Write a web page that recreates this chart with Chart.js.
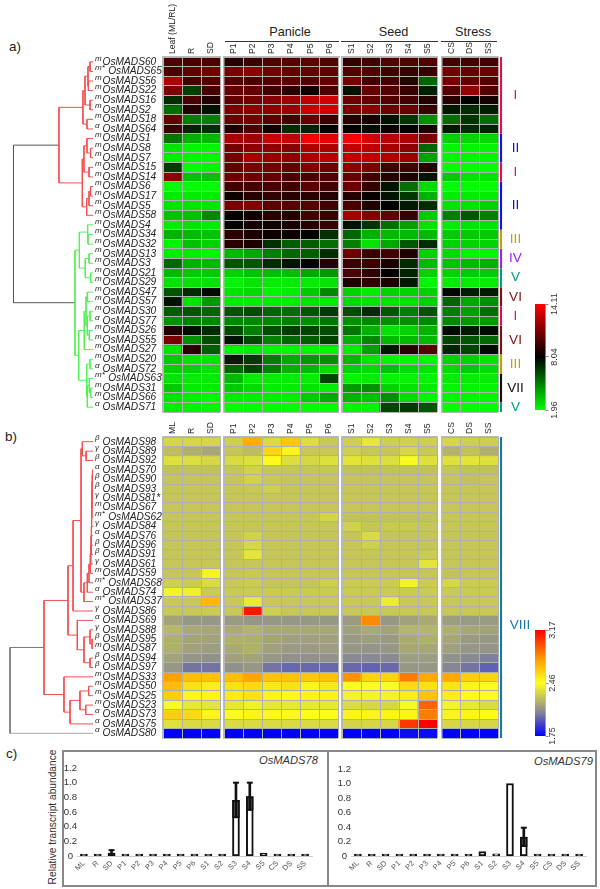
<!DOCTYPE html>
<html lang="en">

<head>
  <meta charset="UTF-8">
  <title>MADS box expression</title>
  <script src="https://cdn.jsdelivr.net/npm/chart.js"></script>
  <style>
    body { margin: 0; background: #fff; font-family: "Liberation Sans", Arial, sans-serif; color: #222; }
    #page { position: relative; width: 600px; height: 889px; overflow: hidden; }
    canvas { position: absolute; }
    .txt { position: absolute; white-space: nowrap; }
    .head { position: absolute; box-sizing: border-box; height: 17px; border-bottom: 1px solid #333; font-size: 12.7px; line-height: 14px; text-align: center; }
    .frame { position: absolute; box-sizing: border-box; border: 2px solid #888; }
  </style>
</head>

<body>
  <div id="page">
    <div class="txt" style="left:9px;top:39px;font-size:13.5px">a)</div>
    <div class="txt" style="left:5px;top:429px;font-size:13.5px">b)</div>
    <div class="txt" style="left:6px;top:746px;font-size:13.5px">c)</div>

    <div class="head" style="left:225px;top:25px;width:114px;padding-left:16px">Panicle</div>
    <div class="head" style="left:341px;top:25px;width:97px;padding-left:8px">Seed</div>
    <div class="head" style="left:441px;top:25px;width:56px;padding-left:8px">Stress</div>

    <div class="frame" style="left:62px;top:750px;width:267px;height:137px"></div>
    <div class="frame" style="left:327px;top:750px;width:270px;height:137px"></div>
    <div class="txt" style="left:51.5px;top:817px;font-size:10.2px;color:#333;transform:translate(-50%,-50%) rotate(-90deg)">Relative transcript abundance</div>
    <div class="txt" style="right:282px;top:754px;font-size:11.2px;font-style:italic;color:#333">OsMADS78</div>
    <div class="txt" style="right:7px;top:755px;font-size:11.2px;font-style:italic;color:#333">OsMADS79</div>

    <canvas id="treeA"></canvas>
    <canvas id="a0"></canvas><canvas id="a1"></canvas><canvas id="a2"></canvas><canvas id="a3"></canvas>
    <canvas id="cladesA"></canvas>
    <canvas id="scaleA"></canvas>
    <canvas id="treeB"></canvas>
    <canvas id="b0"></canvas><canvas id="b1"></canvas><canvas id="b2"></canvas><canvas id="b3"></canvas>
    <canvas id="cladesB"></canvas>
    <canvas id="scaleB"></canvas>
    <canvas id="bars78"></canvas>
    <canvas id="bars79"></canvas>
  </div>

  <script>
    // column labels
    const leafColsA = ['Leaf (ML/RL)', 'R', 'SD'];
    const leafColsB = ['ML', 'R', 'SD'];
    const panicleCols = ['P1', 'P2', 'P3', 'P4', 'P5', 'P6'];
    const seedCols = ['S1', 'S2', 'S3', 'S4', 'S5'];
    const stressCols = ['CS', 'DS', 'SS'];
    const tissues = ['ML', 'R', 'SD', 'P1', 'P2', 'P3', 'P4', 'P5', 'P6', 'S1', 'S2', 'S3', 'S4', 'S5', 'CS', 'DS', 'SS'];

    // gene names, and the small prefix written above-left of each
    const genesA = ['OsMADS60', 'OsMADS65', 'OsMADS56', 'OsMADS22', 'OsMADS16', 'OsMADS2', 'OsMADS18', 'OsMADS64', 'OsMADS1', 'OsMADS8', 'OsMADS7', 'OsMADS15', 'OsMADS14', 'OsMADS6', 'OsMADS17', 'OsMADS5', 'OsMADS58', 'OsMADS4', 'OsMADS34', 'OsMADS32', 'OsMADS13', 'OsMADS3', 'OsMADS21', 'OsMADS29', 'OsMADS47', 'OsMADS57', 'OsMADS30', 'OsMADS77', 'OsMADS26', 'OsMADS55', 'OsMADS27', 'OsMADS20', 'OsMADS72', 'OsMADS63', 'OsMADS31', 'OsMADS66', 'OsMADS71'];
    const prefixA = ['m', 'm*', 'm', 'm', 'm', 'm', 'm', 'α', 'm', 'm', 'm', 'm', 'm', 'm', 'm', 'm', 'm', 'm', 'm', 'm', 'm', 'm', 'm', 'm', 'm', 'm', 'm', 'α', 'm', 'm', 'm', 'm', 'α', 'm*', 'm', 'm', 'α'];
    const genesB = ['OsMADS98', 'OsMADS89', 'OsMADS92', 'OsMADS70', 'OsMADS90', 'OsMADS93', 'OsMADS81*', 'OsMADS67', 'OsMADS62', 'OsMADS84', 'OsMADS76', 'OsMADS96', 'OsMADS91', 'OsMADS61', 'OsMADS59', 'OsMADS68', 'OsMADS74', 'OsMADS37', 'OsMADS86', 'OsMADS69', 'OsMADS88', 'OsMADS95', 'OsMADS87', 'OsMADS94', 'OsMADS97', 'OsMADS33', 'OsMADS50', 'OsMADS25', 'OsMADS23', 'OsMADS73', 'OsMADS75', 'OsMADS80'];
    const prefixB = ['β', 'γ', 'β', 'α', 'β', 'β', 'γ', 'm', 'm*', 'γ', 'α', 'β', 'β', 'γ', 'm', 'm*', 'α', 'm*', 'γ', 'α', 'γ', 'β', 'm', 'β', 'β', 'm', 'm', 'm', 'm', 'α', 'α', 'α'];

    // expression values, one row per gene: leaf R SD | P1-P6 | S1-S5 | CS DS SS
    const heatA = [
      [9.9, 9.8, 9.9, 9.0, 9.5, 10, 10.2, 10.3, 10, 9.3, 9.6, 10, 10, 10, 9.6, 9.6, 9.7],
      [9.8, 10.4, 10.8, 11, 11.4, 10.8, 10.5, 10.4, 10.4, 10, 10, 9.6, 9.4, 9.3, 10.8, 10.5, 10.6],
      [12.2, 9.6, 10, 10, 9.8, 10, 10.2, 10, 10.4, 10.8, 9.6, 9.6, 9, 5.6, 10.8, 10.4, 10],
      [11, 6.5, 9.7, 10.4, 10.4, 9.6, 9.1, 8.4, 9.8, 7.6, 10.4, 10, 9.4, 7.3, 10, 11.6, 10],
      [7, 9.8, 8.8, 10.4, 10.8, 11.2, 11.8, 12.6, 13, 10.6, 10.4, 10, 9.6, 8.9, 9, 8, 8.5],
      [5.4, 8.9, 7.6, 11, 11.4, 11.4, 11.6, 12.8, 13, 11, 11.4, 10.6, 10.5, 9.4, 7.5, 7, 7.3],
      [10.4, 5, 5, 10.6, 10.8, 10.2, 9.6, 10.4, 9.4, 9, 8.6, 7.6, 6.8, 4.6, 5.4, 6.8, 5.4],
      [9.4, 7.2, 6.9, 8.8, 9.8, 8.4, 7, 7.2, 8, 8, 7.7, 8.3, 8, 8.6, 7.5, 7, 7.2],
      [5.2, 3.8, 3.6, 12.2, 12, 13, 12.8, 13.8, 13.5, 14, 13.2, 12.6, 12.2, 11, 3, 2.9, 2.9],
      [2.6, 2.2, 2.2, 10.8, 11.4, 11.4, 11.2, 12.2, 12.2, 12.6, 12.6, 12, 11.4, 5.6, 2.2, 2.2, 2.2],
      [2.4, 2.2, 2.2, 10.8, 12, 11.6, 11.4, 12.2, 12.4, 12.6, 12.6, 12.2, 11.6, 4.2, 2.2, 2.2, 2.2],
      [6.6, 2, 2.2, 10.4, 11, 10.8, 10.4, 11.2, 10.6, 11.4, 11, 9.6, 9.6, 8.9, 2, 2, 2],
      [11.4, 3.4, 3.4, 10.6, 10.6, 10.4, 9.8, 9.7, 9.9, 10.5, 9.6, 9, 8.8, 7.6, 3.2, 2.6, 2.6],
      [2, 2, 2, 9.6, 9.7, 9.8, 9.6, 10.2, 9.6, 10.6, 9.3, 7.6, 5.4, 2.8, 2, 2, 2],
      [2.4, 2.4, 2.4, 8.4, 9, 9.2, 9, 9.1, 8.8, 8.9, 8.3, 7.6, 6.7, 3.8, 2.4, 2.4, 2.4],
      [2.6, 2.6, 2.6, 11, 11.2, 10.2, 10.2, 10, 9.6, 9.8, 8.8, 8, 7.5, 7, 2.6, 2.6, 3],
      [3.4, 3.4, 4.8, 8.1, 8.5, 9, 8.9, 9.6, 9.4, 12, 11.2, 10.4, 9.3, 3.2, 5, 6, 5],
      [2.4, 2.6, 2.4, 8.1, 8.5, 8.4, 8.6, 9, 9.3, 7.6, 6.8, 5.4, 4.2, 2.6, 2.4, 2.6, 2.6],
      [3.8, 3.6, 3.4, 9, 8.7, 8.4, 8.4, 8, 6.9, 5.6, 3.8, 3.6, 3.6, 3.6, 3.2, 3.2, 3.2],
      [2.2, 3.4, 3, 9, 8.7, 6.9, 5.8, 5.8, 5.4, 5, 2.6, 4, 6, 7, 3, 3, 3],
      [2.4, 2.4, 2.2, 3.6, 4, 5, 5.6, 5.8, 7, 10.6, 9.4, 9.6, 8.8, 3, 2.8, 2.2, 2.2],
      [5.6, 3.8, 3.6, 6, 6, 7, 7.6, 8, 9, 9.4, 9.4, 8.6, 7, 3.6, 3.4, 3.6, 3.8],
      [3.6, 3.2, 3.2, 3, 3.4, 3.5, 3.5, 4, 4.4, 9.8, 9.2, 8.1, 7.2, 3, 3, 3.2, 3.2],
      [2.6, 2.6, 2.6, 2.2, 2.6, 2.4, 2.4, 2.4, 2.6, 8.7, 9.2, 8.7, 7.4, 2.2, 2.4, 2.4, 2.4],
      [6, 7, 7.8, 2.6, 2.8, 2.2, 2.4, 3.2, 4.8, 3, 2.4, 3, 3, 3, 7.9, 7.3, 7.4],
      [7.6, 2.6, 4.4, 2.4, 2.4, 2.4, 2.4, 2.6, 2.4, 2.8, 2.6, 2.6, 2.6, 3, 5.6, 4, 4.6],
      [5.8, 6, 5.6, 6, 6.2, 5.6, 5.4, 6, 6.6, 6.2, 7, 6, 5, 6, 5, 4.2, 5.4],
      [4.6, 5, 4.8, 4.8, 4.8, 4.8, 5, 4.6, 5.2, 4.6, 4.8, 4.6, 4.6, 4.8, 4.8, 4.4, 4.4],
      [8.8, 7.7, 7, 6.2, 5, 6.2, 6.6, 6.4, 6.2, 5.2, 3.8, 2.6, 3, 3.8, 7.8, 7.4, 7.8],
      [11, 4.6, 6.2, 7.6, 6.3, 5, 5.6, 5.8, 6.5, 3.8, 4.8, 3.6, 3.6, 3.6, 6.4, 6, 5.6],
      [2.6, 9.1, 5.8, 2.2, 2.4, 2.2, 2.2, 2.2, 2.2, 2.4, 4.2, 7.5, 9, 10, 7.2, 6.4, 7.8],
      [3.2, 2.6, 2.6, 7.4, 6.6, 5, 4, 4.4, 4.6, 3.6, 2.6, 2.2, 2.2, 2.2, 3, 3, 2.6],
      [3, 3, 2.6, 5.6, 6.4, 5, 3.8, 3.6, 2.8, 3, 2.8, 3.4, 2.8, 2.6, 2.8, 3.2, 2.8],
      [2.6, 2.4, 2.4, 3.6, 2.4, 2.4, 2.4, 2.4, 6.4, 2.2, 2.4, 2.2, 2.2, 2.2, 2.4, 2.4, 2.4],
      [3.2, 2.4, 2.4, 3.2, 2.8, 2.4, 2.4, 2.6, 2.4, 4.4, 4.6, 3, 2.6, 2.4, 2.2, 2.2, 2.2],
      [2.6, 2.4, 2.2, 2.4, 2.4, 2.4, 2.4, 3.2, 4, 3.8, 3.4, 4.6, 2.8, 2.2, 2.2, 2.2, 2.2],
      [2.4, 2.2, 2.2, 2, 2, 2, 2, 2, 2, 2.2, 2.2, 6.4, 6.6, 6, 2, 2, 2]
    ];
    const heatB = [
      [2.33, 2.33, 2.33, 2.30, 2.72, 2.34, 2.64, 2.35, 2.28, 2.30, 2.38, 2.30, 2.31, 2.30, 2.33, 2.30, 2.30],
      [2.25, 2.20, 2.17, 2.27, 2.24, 2.60, 2.50, 2.28, 2.28, 2.30, 2.28, 2.27, 2.33, 2.28, 2.21, 2.26, 2.20],
      [2.36, 2.35, 2.33, 2.34, 2.36, 2.48, 2.35, 2.33, 2.36, 2.37, 2.36, 2.35, 2.44, 2.36, 2.36, 2.37, 2.36],
      [2.26, 2.26, 2.26, 2.27, 2.31, 2.27, 2.27, 2.27, 2.27, 2.26, 2.26, 2.26, 2.26, 2.26, 2.27, 2.26, 2.25],
      [2.27, 2.27, 2.27, 2.27, 2.31, 2.28, 2.27, 2.27, 2.27, 2.27, 2.27, 2.27, 2.27, 2.27, 2.27, 2.26, 2.27],
      [2.27, 2.27, 2.27, 2.27, 2.28, 2.30, 2.27, 2.27, 2.27, 2.27, 2.27, 2.27, 2.27, 2.27, 2.27, 2.27, 2.27],
      [2.27, 2.27, 2.27, 2.27, 2.27, 2.27, 2.27, 2.27, 2.27, 2.27, 2.27, 2.27, 2.27, 2.27, 2.27, 2.27, 2.27],
      [2.27, 2.27, 2.27, 2.27, 2.27, 2.27, 2.27, 2.27, 2.27, 2.27, 2.27, 2.27, 2.27, 2.27, 2.27, 2.27, 2.27],
      [2.27, 2.27, 2.27, 2.27, 2.27, 2.27, 2.27, 2.27, 2.32, 2.26, 2.26, 2.26, 2.26, 2.26, 2.27, 2.27, 2.27],
      [2.27, 2.27, 2.27, 2.27, 2.27, 2.27, 2.27, 2.27, 2.27, 2.31, 2.27, 2.28, 2.28, 2.27, 2.27, 2.27, 2.27],
      [2.27, 2.27, 2.27, 2.27, 2.31, 2.27, 2.27, 2.27, 2.27, 2.27, 2.34, 2.27, 2.27, 2.27, 2.27, 2.27, 2.27],
      [2.27, 2.27, 2.27, 2.27, 2.33, 2.27, 2.27, 2.27, 2.27, 2.27, 2.30, 2.27, 2.27, 2.27, 2.27, 2.27, 2.27],
      [2.27, 2.27, 2.27, 2.27, 2.37, 2.27, 2.27, 2.27, 2.27, 2.27, 2.27, 2.27, 2.27, 2.29, 2.27, 2.27, 2.27],
      [2.27, 2.27, 2.27, 2.27, 2.27, 2.27, 2.27, 2.27, 2.27, 2.27, 2.27, 2.27, 2.27, 2.37, 2.27, 2.27, 2.27],
      [2.27, 2.27, 2.42, 2.27, 2.28, 2.27, 2.27, 2.27, 2.27, 2.27, 2.27, 2.27, 2.27, 2.27, 2.26, 2.27, 2.27],
      [2.30, 2.29, 2.34, 2.28, 2.29, 2.27, 2.27, 2.27, 2.30, 2.29, 2.29, 2.29, 2.42, 2.29, 2.33, 2.29, 2.29],
      [2.42, 2.41, 2.29, 2.29, 2.29, 2.29, 2.29, 2.29, 2.29, 2.29, 2.29, 2.29, 2.29, 2.29, 2.29, 2.29, 2.29],
      [2.28, 2.28, 2.69, 2.28, 2.39, 2.28, 2.28, 2.28, 2.28, 2.28, 2.28, 2.40, 2.28, 2.28, 2.28, 2.28, 2.28],
      [2.28, 2.28, 2.29, 2.28, 3.12, 2.30, 2.28, 2.28, 2.28, 2.28, 2.28, 2.28, 2.28, 2.28, 2.28, 2.28, 2.28],
      [2.16, 2.12, 2.12, 2.13, 2.12, 2.12, 2.12, 2.12, 2.12, 2.13, 2.82, 2.12, 2.15, 2.18, 2.14, 2.13, 2.13],
      [2.23, 2.18, 2.17, 2.19, 2.21, 2.18, 2.18, 2.18, 2.17, 2.15, 2.18, 2.16, 2.22, 2.22, 2.20, 2.17, 2.16],
      [2.20, 2.16, 2.16, 2.20, 2.20, 2.16, 2.15, 2.15, 2.15, 2.13, 2.14, 2.13, 2.18, 2.20, 2.17, 2.13, 2.12],
      [2.20, 2.15, 2.14, 2.18, 2.20, 2.15, 2.13, 2.13, 2.14, 2.12, 2.11, 2.12, 2.17, 2.17, 2.15, 2.12, 2.11],
      [2.16, 2.11, 2.10, 2.15, 2.16, 2.12, 2.10, 2.10, 2.10, 2.08, 2.08, 2.08, 2.14, 2.14, 2.10, 2.08, 2.06],
      [2.12, 2.03, 2.03, 2.10, 2.12, 2.03, 2.00, 2.00, 2.00, 2.00, 1.99, 2.00, 2.12, 2.12, 2.07, 2.03, 1.98],
      [2.76, 2.67, 2.66, 2.67, 2.75, 2.65, 2.65, 2.64, 2.66, 2.80, 2.60, 2.60, 2.86, 2.74, 2.74, 2.62, 2.60],
      [2.68, 2.56, 2.52, 2.56, 2.58, 2.54, 2.56, 2.50, 2.54, 2.47, 2.45, 2.45, 2.58, 2.56, 2.55, 2.50, 2.48],
      [2.62, 2.49, 2.50, 2.53, 2.56, 2.50, 2.48, 2.50, 2.50, 2.42, 2.42, 2.42, 2.52, 2.66, 2.52, 2.48, 2.45],
      [2.44, 2.38, 2.37, 2.38, 2.41, 2.38, 2.38, 2.38, 2.38, 2.34, 2.33, 2.33, 2.44, 2.92, 2.42, 2.38, 2.34],
      [2.62, 2.58, 2.50, 2.47, 2.50, 2.49, 2.48, 2.47, 2.47, 2.50, 2.50, 2.50, 2.50, 2.85, 2.50, 2.50, 2.48],
      [2.36, 2.34, 2.34, 2.34, 2.34, 2.34, 2.34, 2.34, 2.34, 2.32, 2.33, 2.33, 3.03, 3.17, 2.33, 2.33, 2.33],
      [1.75, 1.75, 1.75, 1.75, 1.75, 1.75, 1.75, 1.75, 1.75, 1.75, 1.75, 1.75, 1.78, 1.78, 1.75, 1.75, 1.75]
    ];

    // colour scales and their tick labels
    const stopsA = [[1.96, [0, 255, 0]], [8.04, [0, 0, 0]], [14.11, [255, 0, 0]]];
    const stopsB = [[1.75, [0, 0, 255]], [2.10, [145, 145, 140]], [2.46, [255, 255, 30]], [2.75, [255, 165, 0]], [3.17, [255, 0, 0]]];
    const scaleTicksA = [1.96, 8.04, 14.11];
    const scaleTicksB = [1.75, 2.46, 3.17];

    // clustering trees: [merge height, left, right], numbers are gene rows
    const treeRedA = [.366,
      [.108, [.086, [.054, [.032, 0, 1], [.05, 2, 3]], [.032, 4, 5]], [.065, 6, 7]],
      [.115, [.097, [.065, 8, [.026, 9, 10]], [.043, 11, 12]], [.068, [.043, [.026, 13, 14], 15], 16]]];
    const treeGreenA = [.194,
      [.147, [.06, 17, [.054, 18, 19]], [.083, [.043, 20, 21], [.025, 22, 23]]],
      [.154, [.094, [.075, [.061, 24, 25], [.061, [.032, 26, 27], [.04, 28, 29]]], 30],
        [.068, [.032, 31, 32], [.061, [.04, 33, [.025, 34, 35]], 36]]]];
    const rootHeightA = .855;
    const treeUpperB = [.527,
      [.269,
        [.215, [.129, [.115, 0, [.075, 1, 2]],
          [.097, [.061, [.043, [.03, [.024, [.02, [.018, [.016, [.015, [.013, [.012, [.01, [.008, [.006, 3, 4], 5], 6], 7], 8], 9], 10], 11], 12], 13], 14], 15], 16], 17]], 18],
        [.169, 19, [.097, [.032, 20, [.01, 21, 22]], [.032, 23, 24]]]],
      [.312, 25, [.247, [.14, [.047, 26, 27], [.078, 28, 29]], 30]]];
    const rootHeightB = .892;

    // clade bars on the right of the heatmaps
    const cladeNamesA = ['I', 'II', 'I', 'II', 'III', 'IV', 'V', 'VI', 'I', 'VI', 'III', 'VII', 'V'];
    const cladeFirstA = [0, 8, 11, 13, 18, 20, 22, 24, 26, 28, 31, 33, 36];
    const cladeLastA = [7, 10, 12, 17, 19, 21, 23, 25, 27, 30, 32, 35, 36];
    const cladeColorsA = ['#e0104e', '#1414dc', '#e0104e', '#1414dc', '#b5a800', '#a020e8', '#00a078', '#7a1414', '#e0104e', '#7a1414', '#b5a800', '#111111', '#00a078'];
    const cladeNamesB = ['VIII'];
    const cladeFirstB = [0];
    const cladeLastB = [31];
    const cladeColorsB = ['#1a78a8'];

    // panel c, relative abundance with error bars
    const abundance78 = [.025, .005, .04, .005, .005, .005, .005, .005, .005, .01, .005, .76, .81, .04, .02, .01, .015];
    const error78 = [null, null, .04, null, null, null, null, null, null, null, null, .24, .19, null, null, null, null];
    const abundance79 = [.025, .005, .025, .005, .005, .005, .005, .005, .005, .06, .03, 1.0, .26, .01, .003, .01, .01];
    const error79 = [null, null, null, null, null, null, null, null, null, null, null, null, .13, null, null, null, null];

    const fonte = '"Liberation Sans", Arial, sans-serif';
    Chart.defaults.font.family = fonte;
    Chart.defaults.responsive = false;
    Chart.defaults.animation = false;
    Chart.defaults.plugins.legend.display = false;
    Chart.defaults.plugins.tooltip.enabled = false;

    function place(id, left, top, width, height) {
      const c = document.getElementById(id);
      c.width = width;
      c.height = height;
      c.style.left = left + 'px';
      c.style.top = top + 'px';
      return c;
    }

    // y axis: fixed width and no extra room asked for the first and last label
    function fixWidth(w) {
      return function (s) {
        s.width = w;
        s.paddingTop = 0;
        s.paddingBottom = 0;
      };
    }

    function toColor(v, stops) {
      let i = 0;
      while (i < stops.length - 2 && v > stops[i + 1][0]) i++;
      const t = Math.min(1, Math.max(0, (v - stops[i][0]) / (stops[i + 1][0] - stops[i][0])));
      const rgb = stops[i][1].map((c, k) => Math.round(c + (stops[i + 1][1][k] - c) * t));
      return 'rgb(' + rgb.join(',') + ')';
    }

    // one block of the heatmap: stacked bars, each gene one dataset of height 1
    function heatBlock(id, x0, x1, heatTop, heatH, headH, cols, offset, matrix, stops) {
      const canvas = place(id, x0 - 2, heatTop - headH, x1 - x0 + 4, headH + heatH + 2);
      new Chart(canvas, {
        type: 'bar',
        data: {
          labels: cols,
          datasets: matrix.map(function (row) {
            return {
              data: cols.map(function () { return 1; }),
              backgroundColor: cols.map(function (c, i) { return toColor(row[offset + i], stops); }),
              barPercentage: 1,
              categoryPercentage: 1,
              borderWidth: 0
            };
          })
        },
        options: {
          layout: { padding: { left: 2, right: 2, bottom: 2 } },
          scales: {
            x: {
              position: 'top',
              stacked: true,
              afterFit: function (s) {
                s.height = headH;
                s.paddingLeft = 0;
                s.paddingRight = 0;
              },
              grid: { color: '#b0b0b0', z: 1, drawTicks: false },
              border: { color: '#bbb', width: 1.5, z: 1 },
              // a rotated label on a top axis lands one line height too far left
              ticks: { minRotation: 90, maxRotation: 90, padding: 3, labelOffset: 10.3, color: '#222', font: { size: 8.6 }, autoSkip: false }
            },
            y: {
              stacked: true,
              reverse: true,
              min: 0,
              max: matrix.length,
              afterFit: fixWidth(0),
              grid: { color: '#b0b0b0', z: 1, drawTicks: false },
              border: { color: '#bbb', width: 1.5, z: 1 },
              ticks: { display: false, stepSize: 1 }
            }
          }
        }
      });
    }

    // walk a tree: adds its line pieces to pts and returns the y of the node
    function treeLines(node, pts) {
      if (typeof node === 'number') return { y: node, h: 0 };
      const a = treeLines(node[1], pts);
      const b = treeLines(node[2], pts);
      const y = (a.y + b.y) / 2;
      pts.push({ x: a.h, y: a.y }, { x: node[0], y: a.y }, { x: node[0], y: b.y }, { x: b.h, y: b.y }, { x: null, y: null });
      return { y: y, h: node[0] };
    }

    // draws the small m / alpha / beta / gamma written before each gene name
    const prefixPlugin = {
      id: 'prefix',
      afterDraw: function (chart) {
        const marks = chart.options.plugins.prefix.marks;
        const y = chart.scales.y;
        const ctx = chart.ctx;
        ctx.save();
        ctx.font = 'italic 8px ' + fonte;
        ctx.fillStyle = '#222';
        ctx.textBaseline = 'middle';
        marks.forEach(function (m, i) {
          ctx.fillText(m, chart.chartArea.right + 2, y.getPixelForValue(i) - 3.5);
        });
        ctx.restore();
      }
    };

    function treeChart(id, heatTop, heatH, genes, marks, sets) {
      const canvas = place(id, 0, heatTop - 7, 162, heatH + 14);
      new Chart(canvas, {
        type: 'scatter',
        data: {
          datasets: sets.map(function (s) {
            return { data: s.pts, showLine: true, spanGaps: false, borderColor: s.color, borderWidth: s.w || 1, pointRadius: 0, tension: 0 };
          })
        },
        plugins: [prefixPlugin],
        options: {
          layout: { padding: { top: 7, bottom: 7 } },
          plugins: { prefix: { marks: marks } },
          scales: {
            x: { display: false, type: 'linear', reverse: true, min: 0, max: 1 },
            y: {
              type: 'linear',
              position: 'right',
              reverse: true,
              min: -0.5,
              max: genes.length - 0.5,
              afterBuildTicks: function (s) { s.ticks = genes.map(function (g, i) { return { value: i }; }); },
              afterFit: fixWidth(69),
              grid: { display: false, drawTicks: false },
              border: { display: false },
              ticks: {
                autoSkip: false,
                crossAlign: 'near',
                padding: 9.5,
                color: '#222',
                font: { size: 10.2, style: 'italic' },
                callback: function (v) {
                  return (marks[v] === 'm*' ? '  ' : '') + genes[v];
                }
              }
            }
          }
        }
      });
    }

    // puts the clade name next to its bar
    const cladeLabelPlugin = {
      id: 'cladeLabel',
      afterDraw: function (chart) {
        const o = chart.options.plugins.cladeLabel;
        const y = chart.scales.y;
        const ctx = chart.ctx;
        ctx.save();
        ctx.font = '13.6px ' + fonte;
        ctx.textAlign = 'center';
        ctx.textBaseline = 'middle';
        o.names.forEach(function (n, i) {
          const row = o.labelRow !== undefined ? o.labelRow : (o.first[i] + o.last[i]) / 2;
          ctx.fillStyle = o.colors[i];
          ctx.fillText(n, chart.chartArea.right + o.dx, y.getPixelForValue(row));
        });
        ctx.restore();
      }
    };

    function cladeChart(id, heatTop, heatH, nRows, names, first, last, colors, dx, labelRow) {
      const canvas = place(id, 498, heatTop, 40, heatH);
      new Chart(canvas, {
        type: 'bar',
        data: {
          labels: ['clade'],
          datasets: names.map(function (n, i) {
            return { data: [[first[i] - 0.46, last[i] + 0.46]], backgroundColor: colors[i], barThickness: 1.5, grouped: false };
          })
        },
        plugins: [cladeLabelPlugin],
        options: {
          layout: { padding: { right: 34 } },
          plugins: { cladeLabel: { names: names, first: first, last: last, colors: colors, dx: dx, labelRow: labelRow } },
          scales: {
            x: { display: false },
            y: { display: false, reverse: true, min: -0.5, max: nRows - 0.5 }
          }
        }
      });
    }

    // colour key: one floating bar from lowest to highest value, filled with the scale
    function scaleChart(id, top, height, stops, tickVals) {
      const lo = tickVals[0];
      const hi = tickVals[tickVals.length - 1];
      const canvas = place(id, 535, top - 14, 36, height + 28);
      new Chart(canvas, {
        type: 'bar',
        data: {
          labels: ['key'],
          datasets: [{
            data: [[lo, hi]],
            barPercentage: 1,
            categoryPercentage: 1,
            borderWidth: 0,
            backgroundColor: function (c) {
              const area = c.chart.chartArea;
              if (!area) return '#000';
              const y = c.chart.scales.y;
              const g = c.chart.ctx.createLinearGradient(0, y.getPixelForValue(lo), 0, y.getPixelForValue(hi));
              stops.forEach(function (s) {
                g.addColorStop((s[0] - lo) / (hi - lo), toColor(s[0], stops));
              });
              return g;
            }
          }]
        },
        options: {
          layout: { padding: { top: 14, bottom: 14 } },
          scales: {
            x: { display: false },
            y: {
              position: 'right',
              min: lo,
              max: hi,
              afterBuildTicks: function (s) { s.ticks = tickVals.map(function (v) { return { value: v }; }); },
              afterFit: fixWidth(25.5),
              grid: { drawOnChartArea: false, color: '#888', tickLength: 3 },
              border: { color: '#ccc' },
              ticks: {
                minRotation: 90,
                maxRotation: 90,
                crossAlign: 'center',
                // centring uses the unrotated width, so pull the labels back
                padding: -4.5,
                color: '#333',
                font: { size: 9 },
                callback: function (v) { return v.toFixed(2); }
              }
            }
          }
        }
      });
    }

    function barChart(id, left, top, axisW, areaW, areaH, values, errors) {
      const canvas = place(id, left, top - 8, axisW + areaW, areaH + 8 + 24);
      new Chart(canvas, {
        data: {
          labels: tissues,
          datasets: [
            {
              type: 'line', showLine: false, order: 1,
              data: values.map(function (v, i) { return errors[i] === null ? null : v + errors[i]; }),
              pointStyle: 'line', pointRadius: 3, pointBorderWidth: 2, pointBorderColor: '#111'
            },
            {
              type: 'bar', order: 2, grouped: false, barThickness: 2, backgroundColor: '#111',
              data: values.map(function (v, i) { return errors[i] === null ? null : [v - errors[i], v + errors[i]]; })
            },
            {
              type: 'bar', order: 3, grouped: false, barThickness: 7, backgroundColor: '#666', borderColor: '#111', borderWidth: 2, borderSkipped: false,
              data: values.map(function (v, i) { return errors[i] === null ? null : [v - errors[i], v]; })
            },
            {
              type: 'bar', order: 4, grouped: false, barThickness: 7, backgroundColor: '#fff', borderColor: '#111', borderWidth: 2, borderSkipped: false, minBarLength: 2,
              data: values
            }
          ]
        },
        options: {
          layout: { padding: { top: 8 } },
          scales: {
            x: {
              afterFit: function (s) {
                s.height = 24;
                s.paddingLeft = 0;
                s.paddingRight = 0;
              },
              grid: { display: false, drawTicks: false },
              border: { color: '#ccc' },
              ticks: { minRotation: 45, maxRotation: 45, autoSkip: false, padding: 3, color: '#555', font: { size: 7.5 } }
            },
            y: {
              min: 0,
              max: 1.2,
              afterFit: fixWidth(axisW),
              grid: { display: false, drawTicks: false },
              border: { display: false },
              ticks: {
                stepSize: 0.2,
                autoSkip: false,
                crossAlign: 'center',
                padding: 0,
                color: '#333',
                font: { size: 9.6 },
                callback: function (v) { return v === 0 ? '0' : v.toFixed(1); }
              }
            }
          }
        }
      });
    }

    // panel a
    const topA = 57, hA = 355, headA = 57;
    heatBlock('a0', 162.5, 219.5, topA, hA, headA, leafColsA, 0, heatA, stopsA);
    heatBlock('a1', 224, 339, topA, hA, headA, panicleCols, 3, heatA, stopsA);
    heatBlock('a2', 342, 437.5, topA, hA, headA, seedCols, 9, heatA, stopsA);
    heatBlock('a3', 442, 498, topA, hA, headA, stressCols, 14, heatA, stopsA);

    const redA = [], greenA = [];
    const nodeRedA = treeLines(treeRedA, redA);
    const nodeGreenA = treeLines(treeGreenA, greenA);
    treeChart('treeA', topA, hA, genesA, prefixA, [
      { pts: redA, color: '#f45050' },
      { pts: greenA, color: '#55f055' },
      {
        pts: [{ x: nodeRedA.h, y: nodeRedA.y }, { x: rootHeightA, y: nodeRedA.y }, { x: rootHeightA, y: nodeGreenA.y }, { x: nodeGreenA.h, y: nodeGreenA.y }],
        color: '#555'
      }
    ]);
    cladeChart('cladesA', topA, hA, genesA.length, cladeNamesA, cladeFirstA, cladeLastA, cladeColorsA, 11.5);
    scaleChart('scaleA', 303.5, 106.5, stopsA, scaleTicksA);

    // panel b
    const topB = 437, hB = 301, headB = 21;
    heatBlock('b0', 162.5, 219.5, topB, hB, headB, leafColsB, 0, heatB, stopsB);
    heatBlock('b1', 223.5, 338, topB, hB, headB, panicleCols, 3, heatB, stopsB);
    heatBlock('b2', 342, 437.5, topB, hB, headB, seedCols, 9, heatB, stopsB);
    heatBlock('b3', 442, 498, topB, hB, headB, stressCols, 14, heatB, stopsB);

    const upperB = [];
    const nodeUpperB = treeLines(treeUpperB, upperB);
    treeChart('treeB', topB, hB, genesB, prefixB, [
      { pts: upperB, color: '#f45050' },
      {
        pts: [{ x: nodeUpperB.h, y: nodeUpperB.y }, { x: rootHeightB, y: nodeUpperB.y }, { x: rootHeightB, y: 31 }],
        color: '#777'
      },
      { pts: [{ x: rootHeightB, y: 31 }, { x: 0, y: 31 }], color: '#aaa' }
    ]);
    cladeChart('cladesB', topB, hB, genesB.length, cladeNamesB, cladeFirstB, cladeLastB, cladeColorsB, 16, 19.5);
    scaleChart('scaleB', 629.5, 106.5, stopsB, scaleTicksB);

    // panel c
    barChart('bars78', 63, 767.7, 14, 241, 88.3, abundance78, error78);
    barChart('bars79', 337, 769, 14, 241, 87.7, abundance79, error79);
  </script>
</body>

</html>
